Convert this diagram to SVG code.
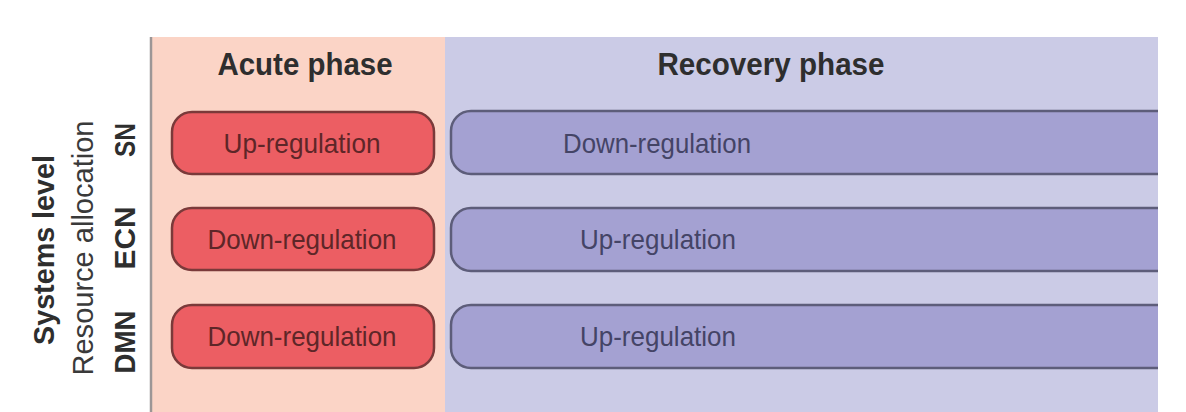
<svg xmlns="http://www.w3.org/2000/svg" width="1186" height="412" viewBox="0 0 1186 412">
<style>
text{font-family:"Liberation Sans Narrow","Liberation Sans",Arial,sans-serif}
.hd{font-size:32px;font-weight:bold;fill:#2e2e2e;text-anchor:middle}
.lb{font-size:30px;fill:#3a3a3a;text-anchor:middle}
.lbb{font-size:30px;font-weight:bold;fill:#2e2e2e;text-anchor:middle}
.rbox{fill:#ec5e63;stroke:#7a3a3a;stroke-width:2.5}
.pbox{fill:#a4a1d2;stroke:#5d5d7a;stroke-width:2.5}
.rt{font-size:28px;fill:#5e2628;text-anchor:middle}
.pt{font-size:28px;fill:#444466;text-anchor:start}
</style>
<rect x="0" y="0" width="1186" height="412" fill="#ffffff"/>
<g id="acute-panel">
<rect x="151" y="37" width="294" height="375" fill="#fbd4c6"/>
<text class="hd" x="305" y="75" textLength="175" lengthAdjust="spacingAndGlyphs">Acute phase</text>
</g>
<g id="recovery-panel">
<rect x="445" y="37" width="713" height="375" fill="#cbcbe6"/>
<text class="hd" x="771" y="75" textLength="227" lengthAdjust="spacingAndGlyphs">Recovery phase</text>
</g>
<line x1="151" y1="37" x2="151" y2="412" stroke="#9c9696" stroke-width="2.5"/>
<g id="labels">
<text class="lbb" transform="translate(54,250) rotate(-90)" textLength="190" lengthAdjust="spacingAndGlyphs">Systems level</text>
<text class="lb" transform="translate(93,248) rotate(-90)" textLength="255" lengthAdjust="spacingAndGlyphs">Resource allocation</text>
<text class="lbb" transform="translate(135,140) rotate(-90)" textLength="34" lengthAdjust="spacingAndGlyphs">SN</text>
<text class="lbb" transform="translate(135,238) rotate(-90)" textLength="63" lengthAdjust="spacingAndGlyphs">ECN</text>
<text class="lbb" transform="translate(135,342) rotate(-90)" textLength="63" lengthAdjust="spacingAndGlyphs">DMN</text>
</g>
<g id="acute-sn">
<rect class="rbox" x="172" y="112" width="262" height="62" rx="20"/>
<text class="rt" x="302" y="153" textLength="157" lengthAdjust="spacingAndGlyphs">Up-regulation</text>
</g>
<g id="acute-ecn">
<rect class="rbox" x="172" y="208" width="262" height="62" rx="20"/>
<text class="rt" x="302" y="249" textLength="189" lengthAdjust="spacingAndGlyphs">Down-regulation</text>
</g>
<g id="acute-dmn">
<rect class="rbox" x="172" y="305" width="262" height="63" rx="20"/>
<text class="rt" x="302" y="346" textLength="189" lengthAdjust="spacingAndGlyphs">Down-regulation</text>
</g>
<g id="recovery-sn">
<rect class="pbox" x="451" y="111" width="740" height="63" rx="20"/>
<text class="pt" x="563" y="153" textLength="188" lengthAdjust="spacingAndGlyphs">Down-regulation</text>
</g>
<g id="recovery-ecn">
<rect class="pbox" x="451" y="208" width="740" height="63" rx="20"/>
<text class="pt" x="580" y="249" textLength="156" lengthAdjust="spacingAndGlyphs">Up-regulation</text>
</g>
<g id="recovery-dmn">
<rect class="pbox" x="451" y="305" width="740" height="63" rx="20"/>
<text class="pt" x="580" y="346" textLength="156" lengthAdjust="spacingAndGlyphs">Up-regulation</text>
</g>
<rect x="1158" y="0" width="28" height="412" fill="#ffffff"/>
<g id="connectors"/>
</svg>
